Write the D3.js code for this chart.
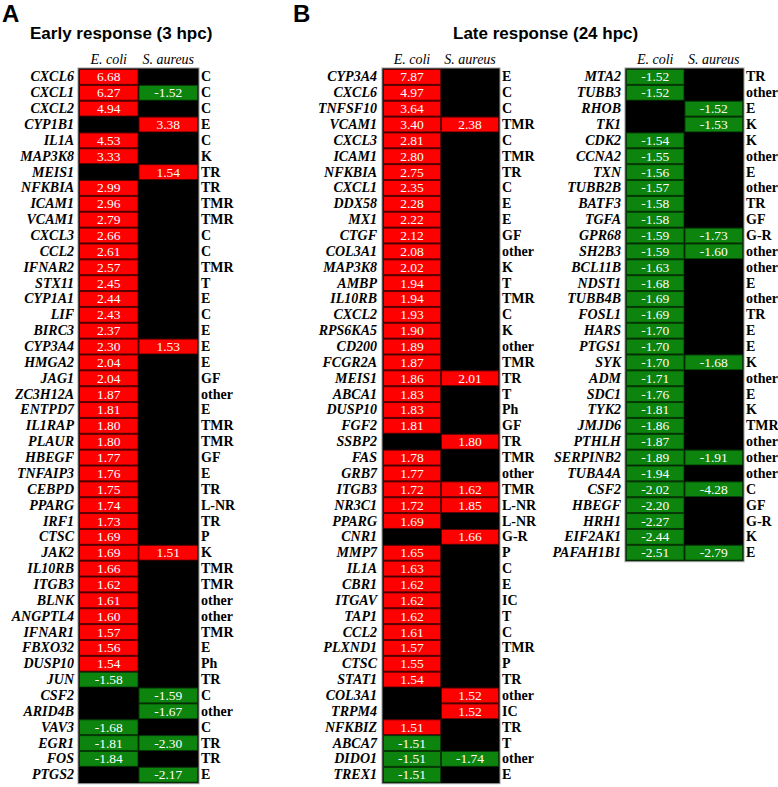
<!DOCTYPE html>
<html>
<head>
<meta charset="utf-8">
<script src="https://cdn.jsdelivr.net/npm/d3@7"></script>
<style>
  body { margin: 0; background: #fff; }
</style>
</head>
<body>
<div id="plot"></div>
<script>
// ---- data (null = not significant, drawn black) ----
const strains = ["E. coli", "S. aureus"];

const earlyGenes = ["CXCL6","CXCL1","CXCL2","CYP1B1","IL1A","MAP3K8","MEIS1","NFKBIA","ICAM1","VCAM1",
  "CXCL3","CCL2","IFNAR2","STX11","CYP1A1","LIF","BIRC3","CYP3A4","HMGA2","JAG1",
  "ZC3H12A","ENTPD7","IL1RAP","PLAUR","HBEGF","TNFAIP3","CEBPD","PPARG","IRF1","CTSC",
  "JAK2","IL10RB","ITGB3","BLNK","ANGPTL4","IFNAR1","FBXO32","DUSP10","JUN","CSF2",
  "ARID4B","VAV3","EGR1","FOS","PTGS2"];
const earlyEcoli = [6.68,6.27,4.94,null,4.53,3.33,null,2.99,2.96,2.79,
  2.66,2.61,2.57,2.45,2.44,2.43,2.37,2.30,2.04,2.04,
  1.87,1.81,1.80,1.80,1.77,1.76,1.75,1.74,1.73,1.69,
  1.69,1.66,1.62,1.61,1.60,1.57,1.56,1.54,-1.58,null,
  null,-1.68,-1.81,-1.84,null];
const earlySaureus = [null,-1.52,null,3.38,null,null,1.54,null,null,null,
  null,null,null,null,null,null,null,1.53,null,null,
  null,null,null,null,null,null,null,null,null,null,
  1.51,null,null,null,null,null,null,null,null,-1.59,
  -1.67,null,-2.30,null,-2.17];
const earlyClass = ["C","C","C","E","C","K","TR","TR","TMR","TMR",
  "C","C","TMR","T","E","C","E","E","E","GF",
  "other","E","TMR","TMR","GF","E","TR","L-NR","TR","P",
  "K","TMR","TMR","other","other","TMR","E","Ph","TR","C",
  "other","C","TR","TR","E"];

const lateGenes = ["CYP3A4","CXCL6","TNFSF10","VCAM1","CXCL3","ICAM1","NFKBIA","CXCL1","DDX58","MX1",
  "CTGF","COL3A1","MAP3K8","AMBP","IL10RB","CXCL2","RPS6KA5","CD200","FCGR2A","MEIS1",
  "ABCA1","DUSP10","FGF2","SSBP2","FAS","GRB7","ITGB3","NR3C1","PPARG","CNR1",
  "MMP7","IL1A","CBR1","ITGAV","TAP1","CCL2","PLXND1","CTSC","STAT1","COL3A1",
  "TRPM4","NFKBIZ","ABCA7","DIDO1","TREX1",
  "MTA2","TUBB3","RHOB","TK1","CDK2","CCNA2","TXN","TUBB2B","BATF3","TGFA",
  "GPR68","SH2B3","BCL11B","NDST1","TUBB4B","FOSL1","HARS","PTGS1","SYK","ADM",
  "SDC1","TYK2","JMJD6","PTHLH","SERPINB2","TUBA4A","CSF2","HBEGF","HRH1","EIF2AK1",
  "PAFAH1B1"];
const lateEcoli = [7.87,4.97,3.64,3.40,2.81,2.80,2.75,2.35,2.28,2.22,
  2.12,2.08,2.02,1.94,1.94,1.93,1.90,1.89,1.87,1.86,
  1.83,1.83,1.81,null,1.78,1.77,1.72,1.72,1.69,null,
  1.65,1.63,1.62,1.62,1.62,1.61,1.57,1.55,1.54,null,
  null,1.51,-1.51,-1.51,-1.51,
  -1.52,-1.52,null,null,-1.54,-1.55,-1.56,-1.57,-1.58,-1.58,
  -1.59,-1.59,-1.63,-1.68,-1.69,-1.69,-1.70,-1.70,-1.70,-1.71,
  -1.76,-1.81,-1.86,-1.87,-1.89,-1.94,-2.02,-2.20,-2.27,-2.44,
  -2.51];
const lateSaureus = [null,null,null,2.38,null,null,null,null,null,null,
  null,null,null,null,null,null,null,null,null,2.01,
  null,null,null,1.80,null,null,1.62,1.85,null,1.66,
  null,null,null,null,null,null,null,null,null,1.52,
  1.52,null,null,-1.74,null,
  null,null,-1.52,-1.53,null,null,null,null,null,null,
  -1.73,-1.60,null,null,null,null,null,null,-1.68,null,
  null,null,null,null,-1.91,null,-4.28,null,null,null,
  -2.79];
const lateClass = ["E","C","C","TMR","C","TMR","TR","C","E","E",
  "GF","other","K","T","TMR","C","K","other","TMR","TR",
  "T","Ph","GF","TR","TMR","other","TMR","L-NR","L-NR","G-R",
  "P","C","E","IC","T","C","TMR","P","TR","other",
  "IC","TR","T","other","E",
  "TR","other","E","K","K","other","E","other","TR","GF",
  "G-R","other","other","E","other","TR","E","E","K","other",
  "E","K","TMR","other","other","other","C","GF","G-R","K",
  "E"];

function rows(genes, ec, sa, cls, from, to) {
  return genes.slice(from, to).map((g, i) => ({
    gene: g, vals: [ec[from + i], sa[from + i]], cls: cls[from + i]
  }));
}

const width = 778, height = 787;
const rowH = 15.86, gridTop = 69;
const serif = "'Liberation Serif'";
const sans = "'Liberation Sans'";

const svg = d3.select('#plot')
  .append('svg')
    .attr('width', width)
    .attr('height', height)
    .style('background', '#FFFFFF');

const fmt = v => v.toFixed(2);   // plain hyphen minus like the figure
const fillOf = v => v == null ? "#000" : (v > 0 ? "#ff0000" : "#0d840d");
const strokeOf = v => v == null ? "#000" : (v > 0 ? "#5a0000" : "#053a05");

// draw one grid block
function block(data, left, right, labelRight) {
  const x = d3.scaleBand().domain(strains).range([left, right]);
  const y = d3.scaleBand().domain(d3.range(data.length)).range([gridTop, gridTop + data.length * rowH]);
  const g = svg.append('g');

  // column headers
  g.selectAll('text.hdr')
    .data(strains)
    .enter().append('text')
      .attr('x', d => x(d) + x.bandwidth() / 2)
      .attr('y', gridTop - 5)
      .attr('text-anchor', 'middle')
      .style('font-family', serif)
      .style('font-style', 'italic')
      .style('font-size', '14px')
      .text(d => d);

  // outer frame
  g.append('rect')
    .attr('x', left - 1).attr('y', gridTop - 1)
    .attr('width', right - left + 2).attr('height', data.length * rowH + 2)
    .attr('fill', '#000').attr('stroke', '#9a9a9a').attr('stroke-width', 1);

  const row = g.selectAll('g.row')
    .data(data)
    .enter().append('g')
      .attr('transform', (d, i) => `translate(0,${y(i)})`);

  strains.forEach((s, j) => {
    row.append('rect')
      .attr('x', x(s) + 0.5)
      .attr('y', 0.5)
      .attr('width', x.bandwidth() - 1)
      .attr('height', y.bandwidth() - 1)
      .attr('fill', d => fillOf(d.vals[j]))
      .attr('stroke', d => strokeOf(d.vals[j]))
      .attr('stroke-width', 1);
    row.filter(d => d.vals[j] != null).append('text')
      .attr('x', x(s) + x.bandwidth() / 2)
      .attr('y', y.bandwidth() / 2 + 4.5)
      .attr('text-anchor', 'middle')
      .style('font-family', serif)
      .style('font-size', '13.5px')
      .attr('fill', '#fff')
      .text(d => fmt(d.vals[j]));
  });

  // gene names
  row.append('text')
    .attr('x', labelRight)
    .attr('y', y.bandwidth() / 2 + 4.5)
    .attr('text-anchor', 'end')
    .style('font-family', serif)
    .style('font-style', 'italic')
    .style('font-weight', 'bold')
    .style('font-size', '14px')
    .text(d => d.gene);

  // functional class
  row.append('text')
    .attr('x', right + 3)
    .attr('y', y.bandwidth() / 2 + 4.5)
    .style('font-family', serif)
    .style('font-weight', 'bold')
    .style('font-size', '14px')
    .text(d => d.cls);
}

block(rows(earlyGenes, earlyEcoli, earlySaureus, earlyClass, 0, 45), 79, 198, 74);
block(rows(lateGenes, lateEcoli, lateSaureus, lateClass, 0, 45), 383, 499, 377);
block(rows(lateGenes, lateEcoli, lateSaureus, lateClass, 45, 76), 626, 743, 621);

// panel letters and titles
svg.append('text').attr('x', 2).attr('y', 22)
  .style('font-family', sans).style('font-weight', 'bold').style('font-size', '24px')
  .text('A');
svg.append('text').attr('x', 293).attr('y', 22)
  .style('font-family', sans).style('font-weight', 'bold').style('font-size', '24px')
  .text('B');
svg.append('text').attr('x', 30).attr('y', 39)
  .style('font-family', sans).style('font-weight', 'bold').style('font-size', '17px')
  .text('Early response (3 hpc)');
svg.append('text').attr('x', 453).attr('y', 39)
  .style('font-family', sans).style('font-weight', 'bold').style('font-size', '17px')
  .text('Late response (24 hpc)');
</script>
</body>
</html>
